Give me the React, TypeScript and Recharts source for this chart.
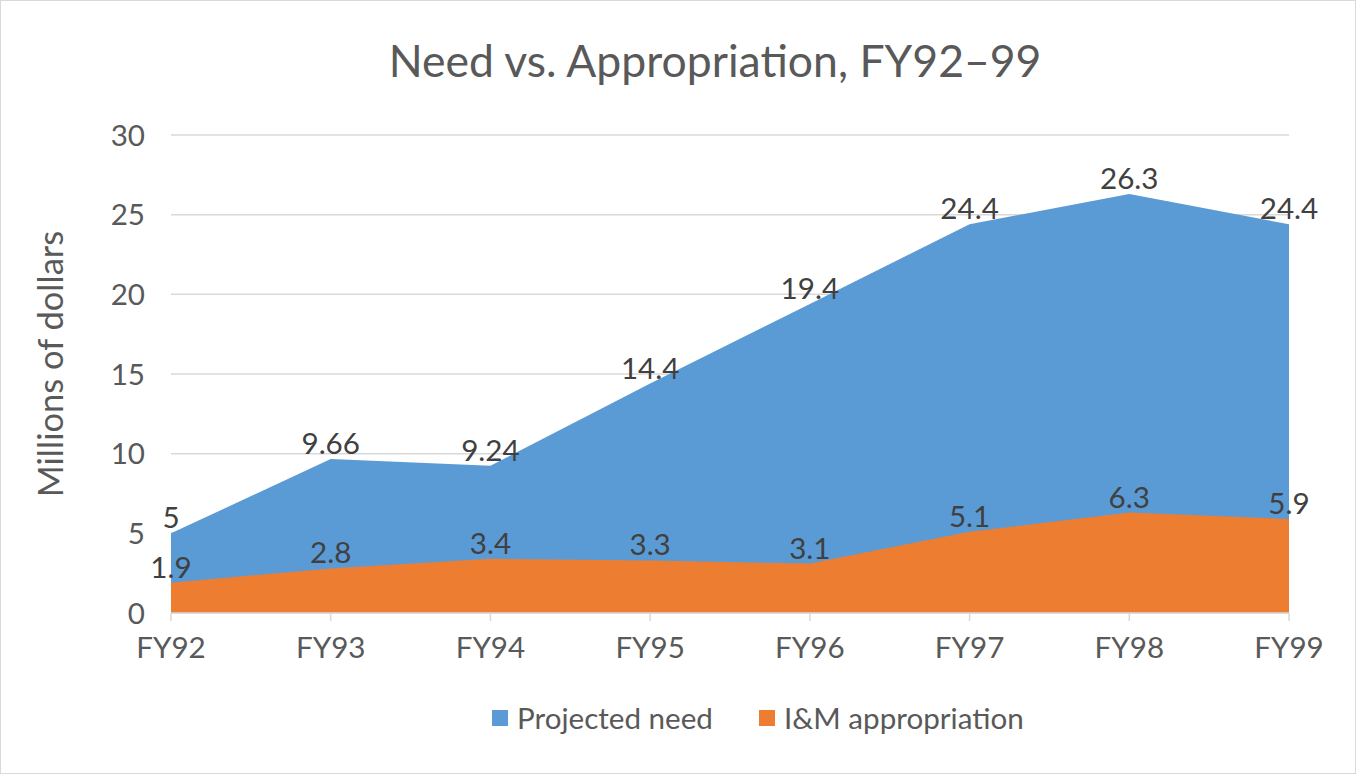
import React from 'react';
import { AreaChart, Area, XAxis, YAxis, CartesianGrid, LabelList } from 'recharts';

const categories = ['FY92', 'FY93', 'FY94', 'FY95', 'FY96', 'FY97', 'FY98', 'FY99'];
const projectedNeed = [5, 9.66, 9.24, 14.4, 19.4, 24.4, 26.3, 24.4];
const imAppropriation = [1.9, 2.8, 3.4, 3.3, 3.1, 5.1, 6.3, 5.9];
const yTicks = [0, 5, 10, 15, 20, 25, 30];
const seriesNames = ['Projected need', 'I&M appropriation'];
const seriesColors = ['#5B9BD5', '#ED7D31'];
const chartTitle = 'Need vs. Appropriation, FY92–99';
const yAxisTitle = 'Millions of dollars';

const data = categories.map((c, i) => ({
  category: c,
  need: projectedNeed[i],
  approp: imAppropriation[i],
}));

const FONT = 'Lato, "Open Sans", sans-serif';
const AXIS_SIZE = 29.6;

export default function App() {
  return (
    <div style={{ position: 'relative', width: 1356, height: 774, background: '#fff', fontFamily: FONT }}>
      <style>{'body{margin:0}'}</style>
      <AreaChart
        width={1356}
        height={774}
        data={data}
        margin={{ top: 135, right: 67, bottom: 101, left: 0 }}
      >
        <CartesianGrid vertical={false} stroke="#D9D9D9" strokeWidth={1.5} />
        <XAxis
          dataKey="category"
          height={60}
          interval={0}
          axisLine={{ stroke: '#D9D9D9', strokeWidth: 1.5 }}
          tickLine={{ stroke: '#D9D9D9', strokeWidth: 1.5 }}
          tickSize={8}
          tickMargin={16}
          tick={{ fill: '#595959', fontSize: AXIS_SIZE, fontFamily: FONT }}
        />
        <YAxis
          width={171}
          domain={[0, 30]}
          ticks={yTicks}
          interval={0}
          axisLine={false}
          tickLine={false}
          tickSize={0}
          tickMargin={26}
          tick={{ fill: '#595959', fontSize: AXIS_SIZE, fontFamily: FONT }}
          label={{
            content: () => (
              <text
                x={63}
                y={364}
                transform="rotate(-90 63 364)"
                textAnchor="middle"
                fill="#595959"
                fontSize={34.5}
                fontFamily={FONT}
              >
                {yAxisTitle}
              </text>
            ),
          }}
        />
        <Area
          type="linear"
          dataKey="need"
          name={seriesNames[0]}
          fill={seriesColors[0]}
          fillOpacity={1}
          stroke="none"
          isAnimationActive={false}
        >
          <LabelList
            dataKey="need"
            position="top"
            offset={5}
            fill="#404040"
            fontSize={AXIS_SIZE}
            fontFamily={FONT}
          />
        </Area>
        <Area
          type="linear"
          dataKey="approp"
          name={seriesNames[1]}
          fill={seriesColors[1]}
          fillOpacity={1}
          stroke="none"
          isAnimationActive={false}
        >
          <LabelList
            dataKey="approp"
            position="top"
            offset={5}
            fill="#404040"
            fontSize={AXIS_SIZE}
            fontFamily={FONT}
          />
        </Area>
      </AreaChart>
      <svg
        width={1356}
        height={774}
        style={{ position: 'absolute', left: 0, top: 0, pointerEvents: 'none' }}
      >
        <text x={715} y={77} textAnchor="middle" fill="#595959" fontSize={44.5} fontFamily={FONT}>
          {chartTitle}
        </text>
        <rect x={0.5} y={0.5} width={1355} height={773} fill="none" stroke="#D9D9D9" strokeWidth={1} />
      </svg>
      <div
        style={{
          position: 'absolute',
          left: 492,
          top: 700,
          height: 36,
          display: 'flex',
          alignItems: 'center',
          gap: 46,
          color: '#595959',
          fontSize: AXIS_SIZE,
          fontFamily: FONT,
          whiteSpace: 'nowrap',
        }}
      >
        {seriesNames.map((n, i) => (
          <div key={n} style={{ display: 'flex', alignItems: 'center', gap: 9 }}>
            <span style={{ display: 'inline-block', width: 16, height: 16, background: seriesColors[i] }} />
            <span style={{ lineHeight: '36px' }}>{n}</span>
          </div>
        ))}
      </div>
    </div>
  );
}
